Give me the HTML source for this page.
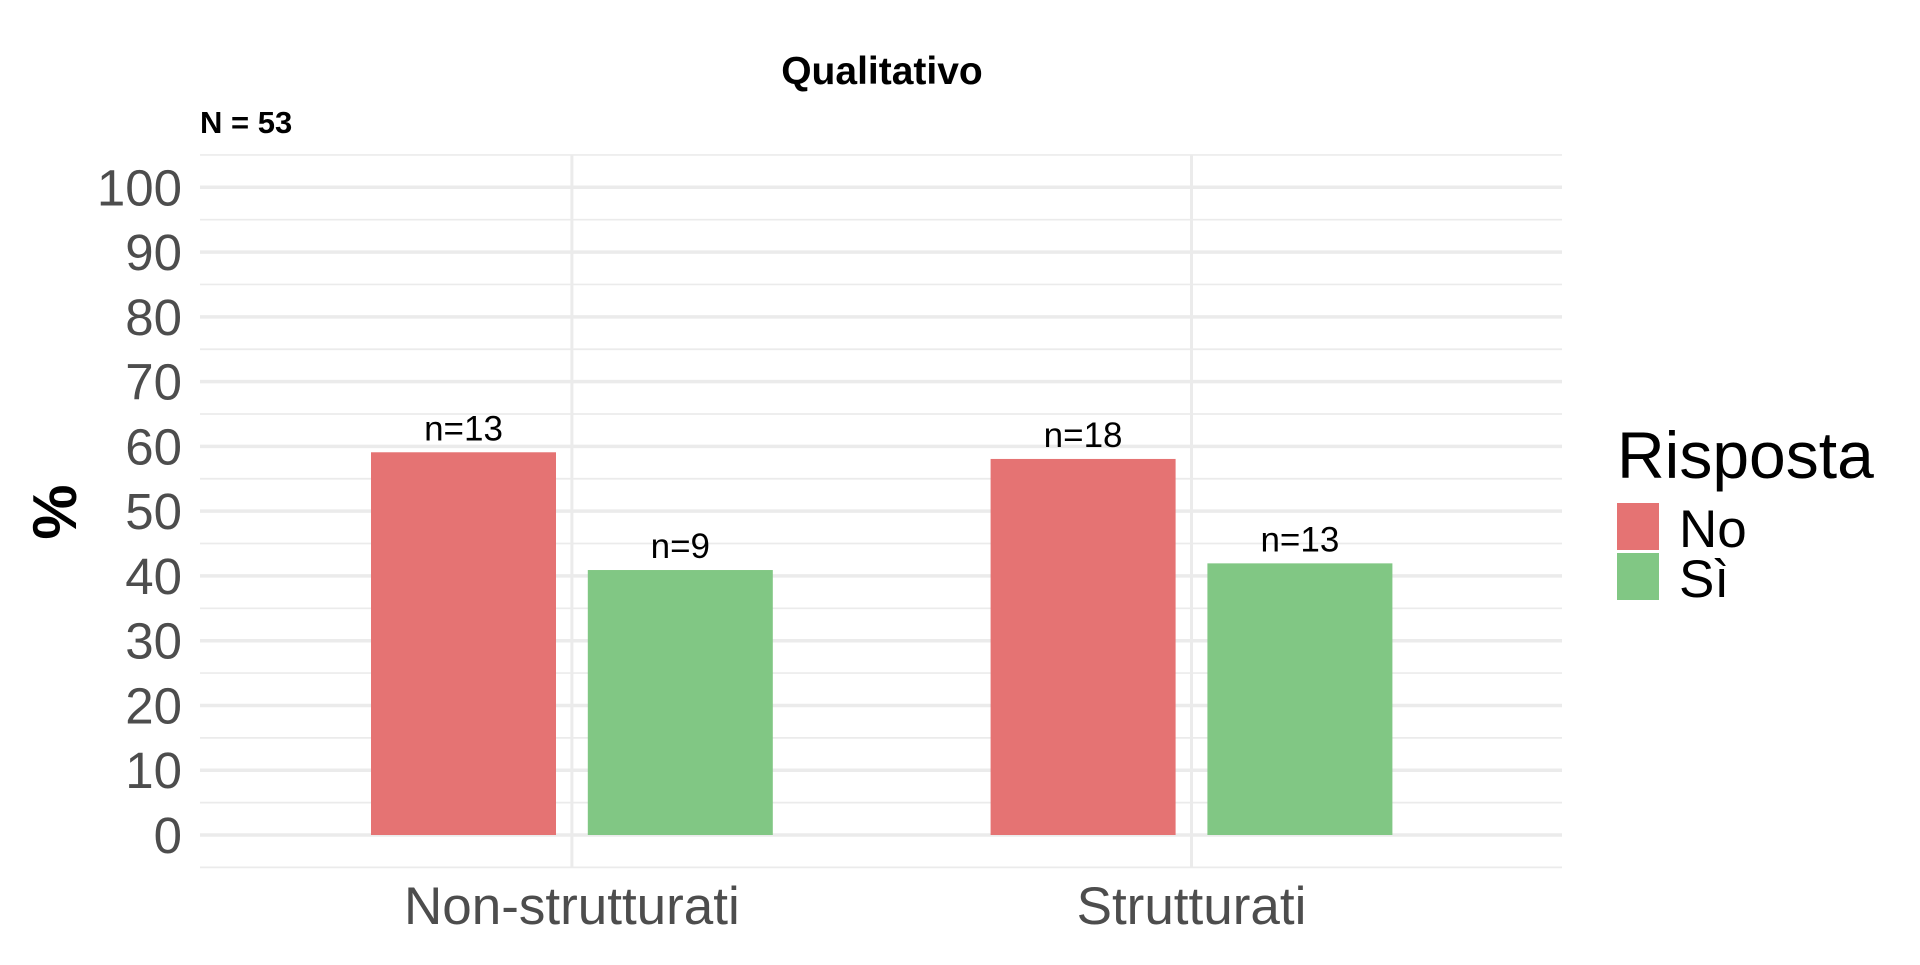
<!DOCTYPE html>
<html><head><meta charset="utf-8"><style>
body{margin:0;background:#fff}
text{font-family:"Liberation Sans",Arial,sans-serif}
</style></head><body>
<svg id="chart" width="1920" height="960" xmlns="http://www.w3.org/2000/svg">
<text x="882" y="84" font-size="39" font-weight="bold" text-anchor="middle">Qualitativo</text>
<text x="200" y="133" font-size="31" font-weight="bold">N = 53</text>
<text transform="translate(76,512) rotate(-90)" font-size="62" font-weight="bold" text-anchor="middle">%</text>
<g id="grid"></g><g id="bars"></g><g id="labels"></g>
<text x="1617" y="478" font-size="66">Risposta</text>
<rect x="1617" y="503" width="42" height="47" fill="#E57373"/>
<text x="1679" y="547" font-size="53">No</text>
<rect x="1617" y="553" width="42" height="47" fill="#81C784"/>
<text x="1679" y="597" font-size="53">Sì</text>
</svg>
<script>
const categories=["Non-strutturati","Strutturati"];
const noValues=[59.09,58.06];
const siValues=[40.91,41.94];
const noCounts=["n=13","n=18"];
const siCounts=["n=9","n=13"];
const yTicks=[0,10,20,30,40,50,60,70,80,90,100];
const NS="http://www.w3.org/2000/svg";
const L=200,R=1562,T=155,B=867;
const y=v=>835-v*6.477;
const x=i=>571.9+i*619.6;
function mk(tag,attrs,parent){const e=document.createElementNS(NS,tag);for(const k in attrs)e.setAttribute(k,attrs[k]);document.getElementById(parent).appendChild(e);return e;}
for(let v=-5;v<=105;v+=5){
  const yy=y(v); if(yy<T-1||yy>B+1)continue;
  const ln=mk('line',{x1:L,x2:R,y1:yy,y2:yy,stroke:'#ebebeb','stroke-width':v%10===0?3.5:1.7},'grid');
  
  
}
yTicks.forEach(t=>{
  const tx=mk('text',{x:182,y:y(t)+18,'font-size':51,fill:'#4d4d4d','text-anchor':'end'},'labels');
  tx.textContent=t;
  
  
});
categories.forEach((c,i)=>{
  const g=mk('line',{x1:x(i),x2:x(i),y1:T,y2:B,stroke:'#ebebeb','stroke-width':3},'grid');
  
  
  const tx=mk('text',{x:x(i),y:924,'font-size':53,fill:'#4d4d4d','text-anchor':'middle'},'labels');
  tx.textContent=c;
  
  
  [[noValues,noCounts,'#E57373',-108.4,'no'],[siValues,siCounts,'#81C784',108.4,'si']].forEach(s=>{
    const v=s[0][i],cx=x(i)+s[3];
    const b=mk('rect',{x:cx-92.5,width:185,y:y(v),height:y(0)-y(v),fill:s[2]},'bars');
    
    
    const l=mk('text',{x:cx,y:y(v)-12,'font-size':35,'text-anchor':'middle'},'labels');
    l.textContent=s[1][i];
    
    
  });
});
</script>
</body></html>
